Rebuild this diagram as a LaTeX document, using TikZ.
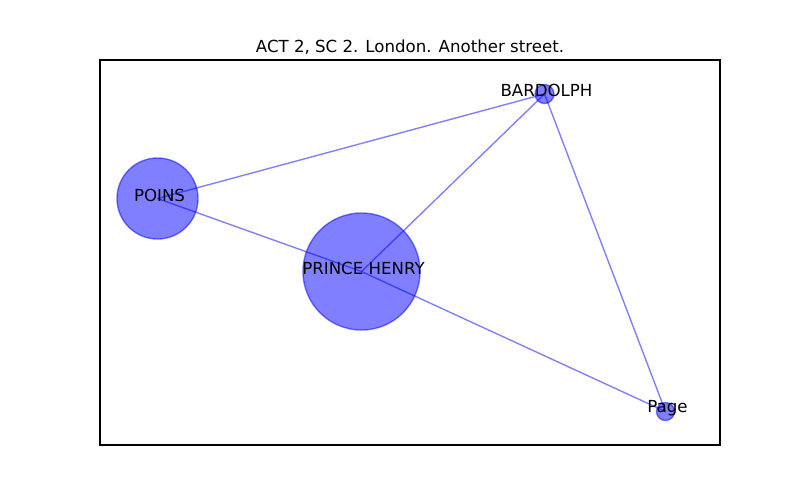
\documentclass[tikz,border=0pt]{standalone}
\usepackage{fontspec}
\setmainfont{DejaVu Sans}
\begin{document}
\begin{tikzpicture}
    [x=0.01in, y=-0.01in,
    font=\fontsize{12}{14}\selectfont,
    person/.style={circle, inner sep=0pt, draw=blue, fill=blue, opacity=0.5, line width=1pt},
    tie/.style={draw=blue, opacity=0.5, line width=1pt},
    who/.style={inner sep=0pt, anchor=center, xshift=0.02in, yshift=0.035in},
    ]
    \useasboundingbox (0,0) rectangle (800,500);
    % frame and title
    \draw[line width=0.8pt] (100,60) rectangle (720,445);
    \node[anchor=base, inner sep=0pt] (title) at (410,52) {ACT 2, SC 2. London. Another street.};
    % characters
    \node[person, minimum size=1.17in] (henry) at (361.5,271.5) {};
    \node[person, minimum size=0.81in] (poins) at (157.5,198.5) {};
    \node[person, minimum size=0.19in] (bardolph) at (544.5,94) {};
    \node[person, minimum size=0.18in] (page) at (665.5,411.5) {};
    % who speaks with whom
    \draw[tie] (poins.center) -- (henry.center);
    \draw[tie] (poins.center) -- (bardolph.center);
    \draw[tie] (henry.center) -- (bardolph.center);
    \draw[tie] (henry.center) -- (page.center);
    \draw[tie] (bardolph.center) -- (page.center);
    % labels
    \node[who] (henry-txt) at (henry) {PRINCE HENRY};
    \node[who] (poins-txt) at (poins) {POINS};
    \node[who] (bardolph-txt) at (bardolph) {BARDOLPH};
    \node[who] (page-txt) at (page) {Page};
  \end{tikzpicture}
\end{document}
